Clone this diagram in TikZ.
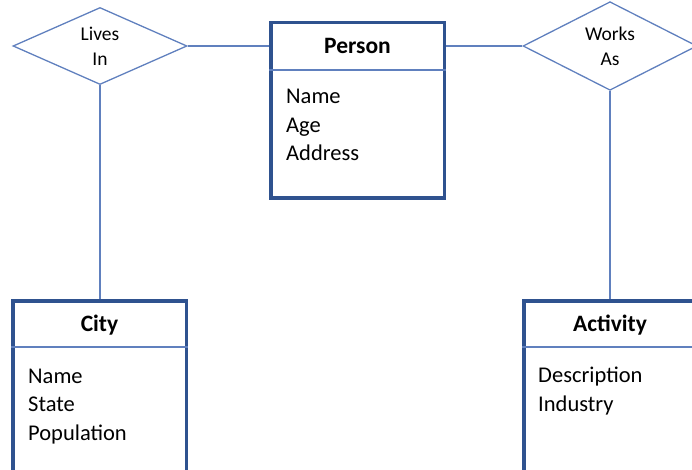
\documentclass[tikz,border=0pt]{standalone}
\usepackage{fontspec}
\setmainfont{Carlito}
\usetikzlibrary{shapes.geometric}
\definecolor{boxblue}{RGB}{47,82,143}
\definecolor{lineblue}{RGB}{96,128,190}

\begin{document}
\begin{tikzpicture}[x=1pt,y=-1pt,
  entity/.style={draw=boxblue,line width=3.5pt,minimum width=173.5pt,inner sep=0pt},
  relation/.style={diamond,draw=lineblue,line width=1.3pt,minimum width=174pt,
    minimum height=72pt,inner sep=0pt,align=center,font=\fontsize{19.5}{25}\selectfont},
  title/.style={font=\fontsize{23.5}{26}\selectfont\bfseries},
  attrs/.style={anchor=north west,inner sep=0pt,align=left,font=\fontsize{22.5}{28.5}\selectfont},
  link/.style={draw=lineblue,line width=1.3pt}]
\clip (0,0) rectangle (692,470);

% entities
\node[entity,minimum height=175.5pt] (person) at (357.5,110.5) {};
\node[entity,minimum height=180pt] (city) at (99.5,390.75) {};
\node[entity,minimum height=180pt] (activity) at (610.75,390.75) {};

% header rules
\draw[link] (person.west |- 0,70) -- (person.east |- 0,70);
\draw[link] (city.west |- 0,347) -- (city.east |- 0,347);
\draw[link] (activity.west |- 0,347) -- (activity.east |- 0,347);

\node[title] (person-name) at (357.5,46) {Person};
\node[title] (city-name) at (99.5,325) {City};
\node[title] (activity-name) at (610,325) {Activity};

\node[attrs] (person-attrs) at (286,89) {Name\\Age\\Address};
\node[attrs] (city-attrs) at (28,368.5) {Name\\State\\Population};
\node[attrs] (activity-attrs) at (538,367) {Description\\Industry};

% relationships
\node[relation] (lives) at (100,46) {Lives\\In};
\node[relation] (works) at (610,46) {Works\\As};

\draw[link] (lives.east) -- (lives.east -| person.west);
\draw[link] (works.west) -- (works.west -| person.east);
\draw[link] (lives.south) -- (lives.south |- city.north);
\draw[link] (works.south) -- (works.south |- activity.north);
\end{tikzpicture}
\end{document}
